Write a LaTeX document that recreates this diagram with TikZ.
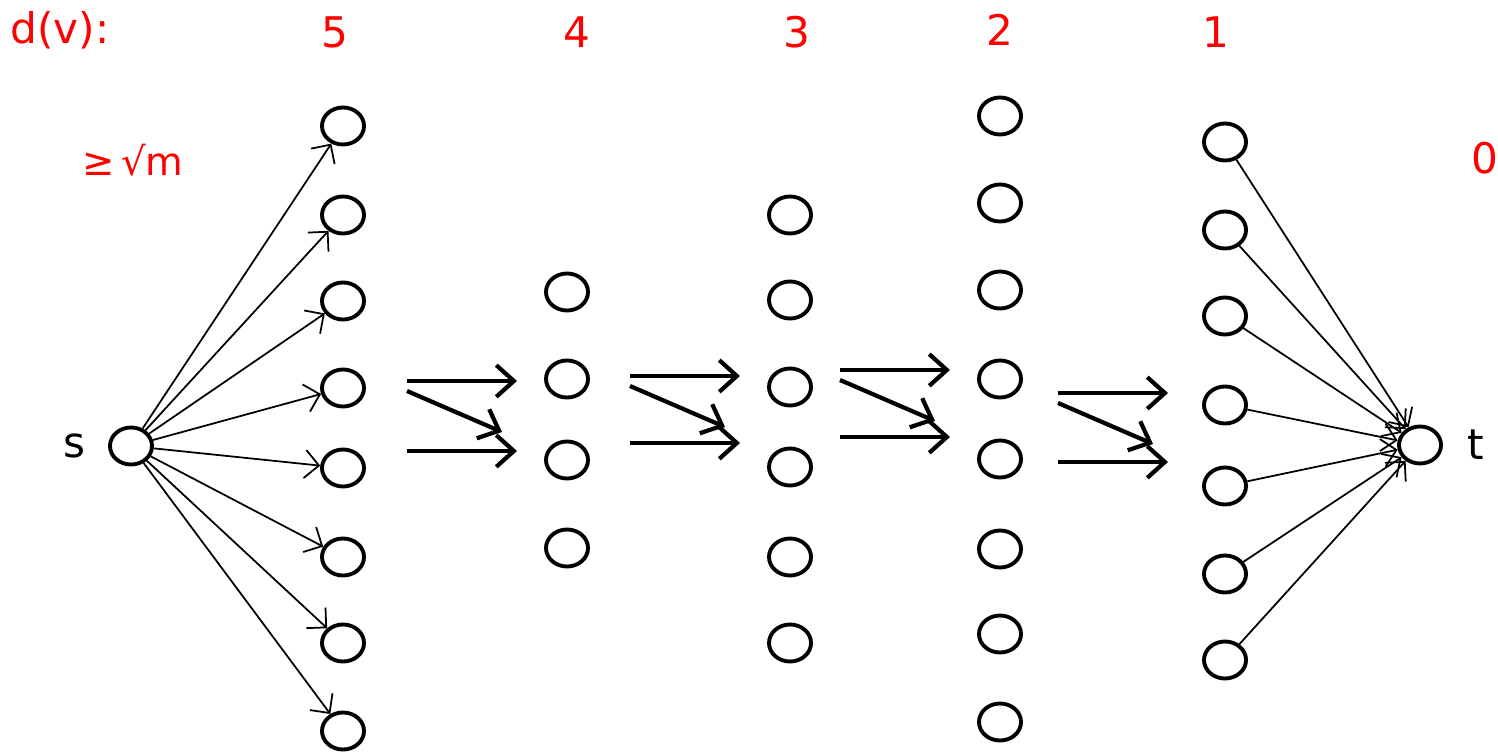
\documentclass[tikz,border=0pt]{standalone}
\usepackage{fontspec}
\setmainfont{DejaVu Sans}
\usepackage{tikz}
\usetikzlibrary{arrows.meta,shapes.geometric,positioning}

\begin{document}
\begin{tikzpicture}[
  x=0.01cm, y=-0.01cm,
  vtx/.style={ellipse, draw, line width=1.1pt, minimum width=0.42cm, minimum height=0.37cm, inner sep=0pt},
  lvl/.style={text=red, font=\fontsize{12}{14}\selectfont},
  thin/.style={-{Straight Barb[length=4pt,width=8pt]}, line width=0.5pt},
  push/.style={-{Straight Barb[length=5pt,width=9pt]}, line width=1.2pt},
  lbl/.style={font=\fontsize{12}{14}\selectfont}
]
  \useasboundingbox (0,0) rectangle (1498,752);

  % distance labels
  \node[lvl] (dv) at (60,30) {d(v):};
  \node[lvl] (d5) at (335,32) {5};
  \node[lvl] (d4) at (577,32) {4};
  \node[lvl] (d3) at (797,32) {3};
  \node[lvl] (d2) at (1000,30) {2};
  \node[lvl] (d1) at (1216,32) {1};
  \node[lvl] (d0) at (1485,158) {0};
  \node[lvl, font=\fontsize{11}{13}\selectfont] (sq) at (133,160) {≥\,√m};

  % source and sink
  \node[vtx] (s) at (131,446) {};
  \node[vtx] (t) at (1420,445) {};
  \node[lbl, left=0.1cm of s] (sl) {s};
  \node[lbl, right=0.12cm of t] (tl) {t};

  % layers
  \foreach \y [count=\i] in {126,215,301,388,468,557,643,731}
    \node[vtx] (a\i) at (343,\y) {};
  \foreach \y [count=\i] in {292,379,460,548}
    \node[vtx] (b\i) at (567,\y) {};
  \foreach \y [count=\i] in {215,300,387,467,557,643}
    \node[vtx] (c\i) at (790,\y) {};
  \foreach \y [count=\i] in {116,203,290,379,459,549,634,722}
    \node[vtx] (e\i) at (1000,\y) {};
  \foreach \y [count=\i] in {142,230,316,405,486,574,660}
    \node[vtx] (f\i) at (1225,\y) {};

  % s to first layer, last layer to t
  \foreach \i in {1,...,8}
    \draw[thin] (s) -- (a\i);
  \foreach \i in {1,...,7}
    \draw[thin] (f\i) -- (t);

  % pushes between layers
  \foreach \x/\ya/\yb [count=\k] in {407/381/451, 630/376/443, 840/370/437, 1058/393/462} {
    \coordinate (p\k a) at (\x,\ya);
    \coordinate (q\k a) at (\x+110,\ya);
    \coordinate (p\k b) at (\x,\ya+10);
    \coordinate (q\k b) at (\x+95,\ya+51);
    \coordinate (p\k c) at (\x,\yb);
    \coordinate (q\k c) at (\x+110,\yb);
    \draw[push] (p\k a) -- (q\k a);
    \draw[push] (p\k b) -- (q\k b);
    \draw[push] (p\k c) -- (q\k c);
  }
\end{tikzpicture}
\end{document}
